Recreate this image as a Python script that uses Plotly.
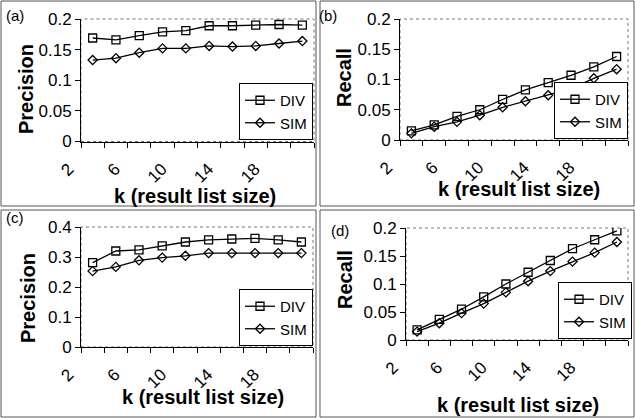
import plotly.graph_objects as go

W, H = 635, 418

K = [2, 4, 6, 8, 10, 12, 14, 16, 18, 20]
K_LABELS = [2, 6, 10, 14, 18]
K_EDGES = [1, 3, 5, 7, 9, 11, 13, 15, 17, 19, 21]

A_DIV = [0.169, 0.166, 0.173, 0.179, 0.181, 0.189, 0.189, 0.190, 0.191, 0.190]
A_SIM = [0.133, 0.136, 0.145, 0.152, 0.152, 0.156, 0.155, 0.156, 0.160, 0.164]
B_DIV = [0.015, 0.025, 0.039, 0.050, 0.067, 0.083, 0.095, 0.107, 0.121, 0.138]
B_SIM = [0.011, 0.022, 0.030, 0.041, 0.054, 0.064, 0.074, 0.085, 0.102, 0.117]
C_DIV = [0.281, 0.320, 0.324, 0.337, 0.350, 0.357, 0.360, 0.362, 0.357, 0.350]
C_SIM = [0.253, 0.267, 0.289, 0.298, 0.304, 0.313, 0.313, 0.313, 0.313, 0.313]
D_DIV = [0.018, 0.037, 0.055, 0.077, 0.100, 0.121, 0.142, 0.163, 0.179, 0.195]
D_SIM = [0.015, 0.030, 0.048, 0.065, 0.085, 0.105, 0.123, 0.140, 0.156, 0.175]

PANELS = ["(a)", "(b)", "(c)", "(d)"]
Y_TITLES = ["Precision", "Recall", "Precision", "Recall"]
X_TITLE = "k (result list size)"
Y_MAX = [0.2, 0.2, 0.4, 0.2]
Y_DTICK = [0.05, 0.05, 0.1, 0.05]
SERIES = [(A_DIV, A_SIM), (B_DIV, B_SIM), (C_DIV, C_SIM), (D_DIV, D_SIM)]

FONT = "Liberation Sans, Arial, sans-serif"

def px(x):
    return x / W

def py(y):
    return 1 - y / H

# plot area pixel boxes: left, right, top, bottom
BOXES = [(81, 314, 19, 141.5), (400, 628, 19, 140), (81, 313, 227, 347), (406, 628, 228, 340)]
LEG = [(313, 140), (628, 139), (313, 346), (632, 339)]
YT = [(26, 89), (344, 78), (28, 298), (345, 280)]
XT = [(195, 196), (519, 189), (203, 397), (518, 405)]
PL = [(15, 15), (328, 15), (15, 217), (340, 230)]
FRAMES = [(1, 1, 316, 206), (320, 1, 634, 206), (1, 210, 316, 417), (320, 210, 634, 417)]

fig = go.Figure()
annotations = []
shapes = []
layout = {}
for i in range(4):
    n = "" if i == 0 else str(i + 1)
    leg = "legend" if i == 0 else "legend" + str(i + 1)
    div, sim = SERIES[i]
    fig.add_trace(go.Scatter(x=K, y=div, name="DIV", mode="lines+markers",
                             xaxis="x" + n, yaxis="y" + n, legend=leg,
                             line=dict(color="black", width=1.3),
                             marker=dict(symbol="square-open", size=8, color="black",
                                         line=dict(width=1.3))))
    fig.add_trace(go.Scatter(x=K, y=sim, name="SIM", mode="lines+markers",
                             xaxis="x" + n, yaxis="y" + n, legend=leg,
                             line=dict(color="black", width=1.3),
                             marker=dict(symbol="diamond-open", size=7, color="black",
                                         line=dict(width=1.3))))
    l, r, t, b = BOXES[i]
    layout["xaxis" + n] = dict(
        domain=[px(l), px(r)], anchor="y" + n, range=[K_EDGES[0], K_EDGES[-1]],
        tickvals=K_LABELS, ticktext=[str(v) for v in K_LABELS], tickangle=-45,
        ticks="", ticklabelshift=-24, ticklabelstandoff=10,
        minor=dict(tickvals=K_EDGES, ticks="outside", ticklen=5, tickcolor="black"),
        showline=True, linecolor="black", linewidth=1, showgrid=False, zeroline=False,
        automargin=False,
        tickfont=dict(family=FONT, size=17, color="black"), fixedrange=True)
    layout["yaxis" + n] = dict(
        domain=[py(b), py(t)], anchor="x" + n, range=[0, Y_MAX[i]], dtick=Y_DTICK[i],
        ticks="outside", ticklen=5, tickcolor="black", showline=True, linecolor="black",
        linewidth=1, showgrid=False, zeroline=False, automargin=False,
        tickfont=dict(family=FONT, size=17, color="black"), fixedrange=True)
    layout[leg] = dict(x=px(LEG[i][0]), y=py(LEG[i][1]), xanchor="right", yanchor="bottom",
                       xref="paper", yref="paper", bordercolor="black", borderwidth=1,
                       bgcolor="white", font=dict(family=FONT, size=15, color="black"),
                       itemwidth=30, tracegroupgap=0)
    shapes.append(dict(type="rect", xref="x" + n + " domain", yref="y" + n + " domain",
                       x0=0, x1=1, y0=0, y1=1, line=dict(color="#777", width=1, dash="dot"),
                       layer="below"))
    x0, y0, x1, y1 = FRAMES[i]
    shapes.append(dict(type="rect", xref="paper", yref="paper", x0=px(x0), x1=px(x1),
                       y0=py(y1), y1=py(y0), line=dict(color="#555", width=1)))
    annotations.append(dict(text="<b>" + Y_TITLES[i] + "</b>", textangle=-90,
                            x=px(YT[i][0]), y=py(YT[i][1]), xref="paper", yref="paper",
                            xanchor="center", yanchor="middle",
                            showarrow=False, font=dict(family=FONT, size=20, color="black")))
    annotations.append(dict(text="<b>" + X_TITLE + "</b>",
                            x=px(XT[i][0]), y=py(XT[i][1]), xref="paper", yref="paper",
                            xanchor="center", yanchor="middle",
                            showarrow=False, font=dict(family=FONT, size=20, color="black")))
    annotations.append(dict(text=PANELS[i], x=px(PL[i][0]), y=py(PL[i][1]),
                            xref="paper", yref="paper", showarrow=False,
                            xanchor="center", yanchor="middle",
                            font=dict(family=FONT, size=15, color="black")))

fig.update_layout(width=W, height=H,
                  margin=dict(l=0, r=0, t=0, b=0, pad=0, autoexpand=False),
                  paper_bgcolor="white", plot_bgcolor="white", hovermode=False,
                  annotations=annotations, shapes=shapes, **layout)
fig.write_html("out.html", config={"responsive": False, "displayModeBar": False,
                                   "staticPlot": True},
               post_script="document.body.style.margin='0';document.body.style.overflow='hidden';")
